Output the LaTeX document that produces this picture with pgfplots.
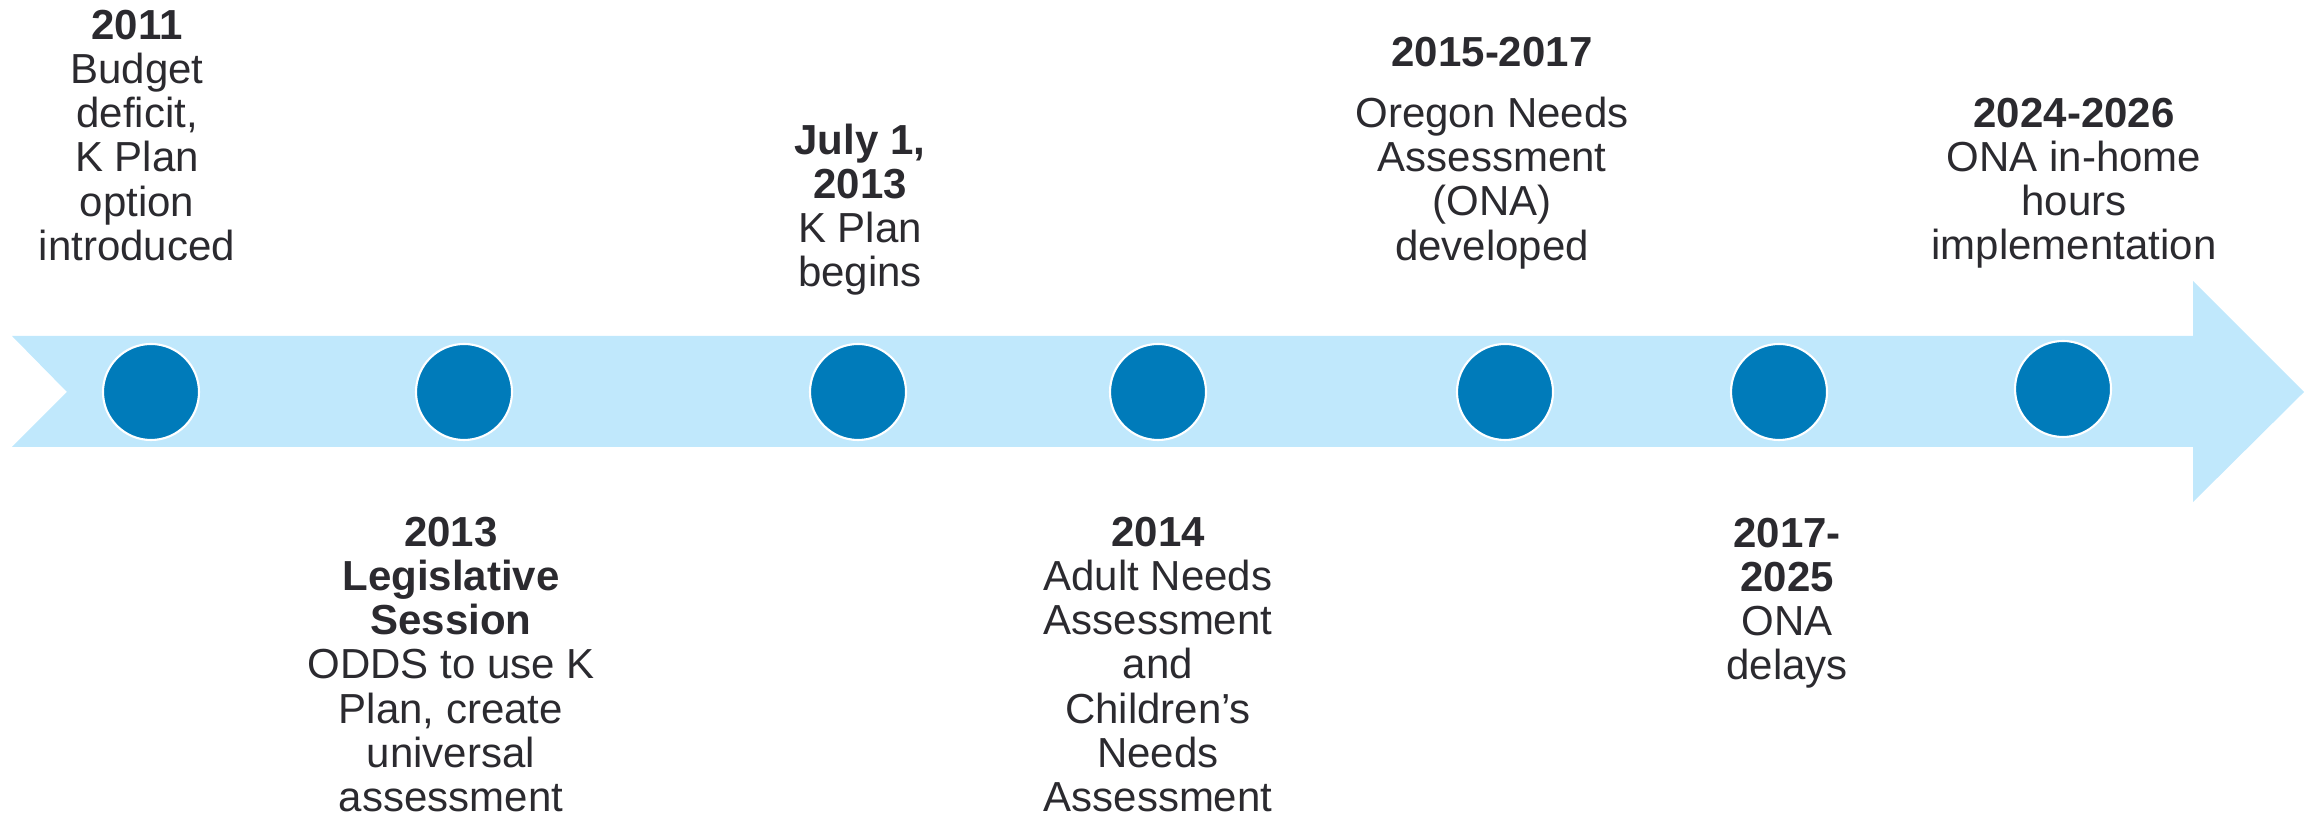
\documentclass[border=0pt]{standalone}
\usepackage{pgfplots}
\pgfplotsset{compat=1.18}
\usepackage{fontspec}
\setmainfont{Liberation Sans}

\definecolor{band}{HTML}{C0E8FC}
\definecolor{dot}{HTML}{007BBA}
\definecolor{txt}{HTML}{2B2A2F}

\tikzset{lbl/.style={font=\fontsize{11.95}{12.6}\selectfont, text=txt,
    align=center, anchor=north, inner sep=0pt}}

\begin{document}
\begin{tikzpicture}
\begin{axis}[
    width=23.1cm, height=8.17cm, scale only axis,
    xmin=0, xmax=2310, ymin=0, ymax=817,
    axis lines=none, clip=false,
]
% keep the whole canvas in the bounding box
\path (rel axis cs:0,0) rectangle (rel axis cs:1,1);

% arrow band (pixel coordinates, y measured upwards)
\addplot[fill=band, draw=none] coordinates {
    (12,481) (2193,481) (2193,536) (2304,425) (2193,315)
    (2193,370) (12,370) (67,425) (12,481)
};

% milestones
\addplot[only marks, mark=*, mark size=13.66pt,
    mark options={fill=dot, draw=white, line width=0.6pt}] coordinates {
    (151,425) (464,425) (858,425) (1158,425) (1505,425) (1779,425) (2063,428)
};

% labels above
\node[lbl] at (axis cs:137,808) {\textbf{2011}\\Budget\\deficit,\\K Plan\\option\\introduced};
\node[lbl] at (axis cs:860,694) {\textbf{July 1,}\\\textbf{2013}\\K Plan\\begins};
\node[lbl] at (axis cs:1492,781) {\textbf{2015-2017}\\[0.17cm]Oregon Needs\\Assessment\\(ONA)\\developed};
\node[lbl] at (axis cs:2074,720) {\textbf{2024-2026}\\ONA in-home\\hours\\implementation};

% labels below
\node[lbl] at (axis cs:451,301) {\textbf{2013}\\\textbf{Legislative}\\\textbf{Session}\\ODDS to use K\\Plan, create\\universal\\assessment};
\node[lbl] at (axis cs:1158,301) {\textbf{2014}\\Adult Needs\\Assessment\\and\\Children’s\\Needs\\Assessment};
\node[lbl] at (axis cs:1787,300) {\textbf{2017-}\\\textbf{2025}\\ONA\\delays};

\end{axis}
\end{tikzpicture}
\end{document}
